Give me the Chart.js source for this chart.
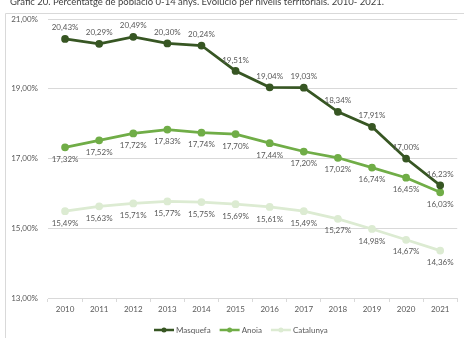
<!DOCTYPE html>
<html lang="ca">
<head>
  <meta charset="UTF-8">
  <title>Població 0-14 anys</title>
  <script src="https://cdn.jsdelivr.net/npm/chart.js"></script>
  <style>
    html, body { margin: 0; padding: 0; background: #fff; }
    #wrap { width: 464px; height: 338px; }
  </style>
</head>
<body>
  <div id="wrap"><canvas id="grafic" width="464" height="338"></canvas></div>

  <script>
    // dades: % de població 0-14 anys
    const anys = ['2010','2011','2012','2013','2014','2015','2016','2017','2018','2019','2020','2021'];
    const masquefa = [20.43, 20.29, 20.49, 20.30, 20.24, 19.51, 19.04, 19.03, 18.34, 17.91, 17.00, 16.23];
    const anoia = [17.32, 17.52, 17.72, 17.83, 17.74, 17.70, 17.44, 17.20, 17.02, 16.74, 16.45, 16.03];
    const catalunya = [15.49, 15.63, 15.71, 15.77, 15.75, 15.69, 15.61, 15.49, 15.27, 14.98, 14.67, 14.36];

    const titol = 'Gràfic 20. Percentatge de població 0-14 anys. Evolució per nivells territorials. 2010- 2021.';
    const font = 'Lato, "Liberation Sans", sans-serif';
    const gris = '#595959';

    const fmt = v => v.toFixed(2).replace('.', ',') + '%';

    // etiquetes de valor, títol, marc i llegenda
    const extres = {
      id: 'extres',
      afterDatasetsDraw(chart) {
        const ctx = chart.ctx;
        ctx.save();
        ctx.font = '8px ' + font;
        ctx.fillStyle = gris;
        ctx.textAlign = 'center';
        ctx.textBaseline = 'middle';
        chart.data.datasets.forEach((ds, i) => {
          const meta = chart.getDatasetMeta(i);
          meta.data.forEach((pt, j) => {
            const dy = ds.posEtiqueta === 'dalt' ? -11 : 12;
            ctx.fillText(fmt(ds.data[j]), pt.x, pt.y + dy);
          });
        });
        ctx.restore();
      },
      afterDraw(chart) {
        const ctx = chart.ctx;
        ctx.save();
        // marc
        ctx.strokeStyle = '#d9d9d9';
        ctx.lineWidth = 1;
        ctx.beginPath();
        ctx.moveTo(5.5, 338);
        ctx.lineTo(5.5, 13.5);
        ctx.lineTo(464, 13.5);
        ctx.stroke();
        // títol
        ctx.fillStyle = '#404040';
        ctx.font = '9.5px ' + font;
        ctx.textAlign = 'left';
        ctx.textBaseline = 'alphabetic';
        ctx.fillText(titol, 10, 5);
        // llegenda
        ctx.font = '8px ' + font;
        ctx.textBaseline = 'middle';
        const y = 330;
        let x = 154;
        chart.data.datasets.forEach(ds => {
          ctx.strokeStyle = ds.borderColor;
          ctx.fillStyle = ds.borderColor;
          ctx.lineWidth = 2.5;
          ctx.beginPath();
          ctx.moveTo(x, y);
          ctx.lineTo(x + 20, y);
          ctx.stroke();
          ctx.beginPath();
          ctx.arc(x + 10, y, 2.5, 0, Math.PI * 2);
          ctx.fill();
          ctx.fillStyle = gris;
          ctx.fillText(ds.label, x + 22, y);
          x += 22 + ctx.measureText(ds.label).width + 9;
        });
        ctx.restore();
      }
    };

    function serie(label, data, color, pos) {
      return {
        label: label,
        data: data,
        borderColor: color,
        backgroundColor: color,
        borderWidth: 2.75,
        pointRadius: 2.5,
        pointBackgroundColor: color,
        pointBorderColor: color,
        tension: 0,
        posEtiqueta: pos
      };
    }

    new Chart(document.getElementById('grafic'), {
      type: 'line',
      data: {
        labels: anys,
        datasets: [
          serie('Masquefa', masquefa, '#375623', 'dalt'),
          serie('Anoia', anoia, '#70ad47', 'baix'),
          serie('Catalunya', catalunya, '#dcebd2', 'baix')
        ]
      },
      options: {
        responsive: false,
        animation: false,
        layout: { padding: { top: 19, left: 0, right: 0, bottom: 0 } },
        plugins: {
          legend: { display: false },
          title: { display: false },
          tooltip: { enabled: false }
        },
        scales: {
          x: {
            offset: true,
            grid: {
              offset: true,
              drawOnChartArea: false,
              drawTicks: true,
              tickLength: 4,
              color: '#d9d9d9'
            },
            border: { color: '#d9d9d9' },
            ticks: { color: gris, font: { family: font, size: 8 }, padding: 3, maxRotation: 0 },
            afterFit(scale) { scale.height = 40; }
          },
          y: {
            min: 13,
            max: 21,
            ticks: {
              stepSize: 2,
              color: gris,
              font: { family: font, size: 8 },
              padding: 10,
              callback: v => fmt(v)
            },
            grid: { color: '#d9d9d9', drawTicks: false },
            border: { display: false },
            afterFit(scale) { scale.width = 48; }
          }
        }
      },
      plugins: [extres]
    });
  </script>
</body>
</html>
